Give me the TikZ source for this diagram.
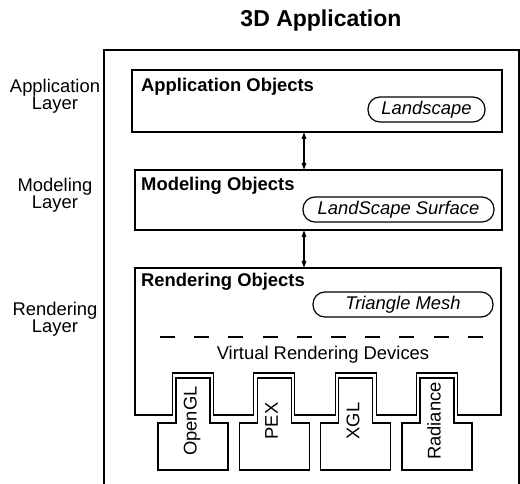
\documentclass[tikz,border=0pt]{standalone}
\usepackage{fontspec}
\setmainfont{Liberation Sans}
\usetikzlibrary{arrows.meta}
\begin{document}
\begin{tikzpicture}[x=1pt,y=-1pt,
  txt/.style={font=\fontsize{18.4}{15}\selectfont, inner sep=0pt},
  lay/.style={font=\fontsize{18.4}{12.5}\selectfont, inner sep=0pt, align=center},
  bold/.style={txt, font=\fontsize{18.4}{15}\selectfont\bfseries, anchor=base west},
  layerbox/.style={draw, line width=1.2pt, outer sep=0pt, inner sep=0pt},
  pill/.style={draw, line width=1.2pt, rounded corners=12pt, minimum height=25pt, inner sep=0pt, font=\fontsize{18.4}{15}\selectfont\itshape},
  biarrow/.style={line width=1.2pt, {Triangle[length=7pt,width=4.5pt]}-{Triangle[length=7pt,width=4.5pt]}},
  devtxt/.style={font=\fontsize{18.4}{15}\selectfont, rotate=90, inner sep=0pt, text height=13.2pt, text depth=3.9pt},
  thinline/.style={line width=1.2pt, line join=miter}
]
\useasboundingbox (0,0) rectangle (520,484);
% title
\node[font=\fontsize{23}{26}\selectfont\bfseries, inner sep=0pt] (title) at (321,21) {3D Application};
% outer frame
\draw[line width=2.5pt] (104,484) -- (104,50) -- (519,50) -- (519,484);
% layer labels
\node[lay] (lapp) at (55,96) {Application\\[-0.5pt]Layer};
\node[lay] (lmod) at (55,195) {Modeling\\[-0.5pt]Layer};
\node[lay] (lren) at (55,319) {Rendering\\[-0.5pt]Layer};
% application box
\node[layerbox, minimum width=370pt, minimum height=62pt] (app) at (317,101) {};
\node[bold] (apptxt) at (141,92) {Application Objects};
\node[pill, minimum width=117pt] (landscape) at (426.5,109.5) {Landscape};
% modeling box
\node[layerbox, minimum width=367pt, minimum height=60pt] (mod) at (318.5,200) {};
\node[bold] (modtxt) at (141,191) {Modeling Objects};
\node[pill, minimum width=191pt] (surface) at (398.5,209.5) {LandScape Surface};
% rendering box with notches
\coordinate (rendtop) at (304,268);
\draw[thinline] (135,415) -- (135,268) -- (501,268) -- (501,415)
  \foreach \cx in {437,355.7,274.3,193} { -- (\cx+20.5,415) -- (\cx+20.5,373) -- (\cx-20.5,373) -- (\cx-20.5,415) } -- cycle;
\node[bold] (rentxt) at (141,287) {Rendering Objects};
\node[pill, minimum width=180pt] (mesh) at (403,304.5) {Triangle Mesh};
\draw[thinline, dash pattern=on 15pt off 19.2pt] (160,337) -- (483,337);
\node[txt] (vrd) at (323,355) {Virtual Rendering Devices};
% devices
\foreach \cx/\nm/\lab in {193/ogl/OpenGL, 274.3/pex/PEX, 355.7/xgl/XGL, 437/rad/Radiance} {
  \draw[thinline] (\cx-17,423) -- (\cx-17,378) -- (\cx+17,378) -- (\cx+17,423) -- (\cx+35,423) -- (\cx+35,470) -- (\cx-35,470) -- (\cx-35,423) -- cycle;
  \node[devtxt] (\nm) at (\cx-1,421) {\lab};
}
% arrows
\coordinate (ax) at (304,0);
\draw[biarrow] (app.south -| ax) -- (mod.north -| ax);
\draw[biarrow] (mod.south -| ax) -- (rendtop);
\end{tikzpicture}
\end{document}
